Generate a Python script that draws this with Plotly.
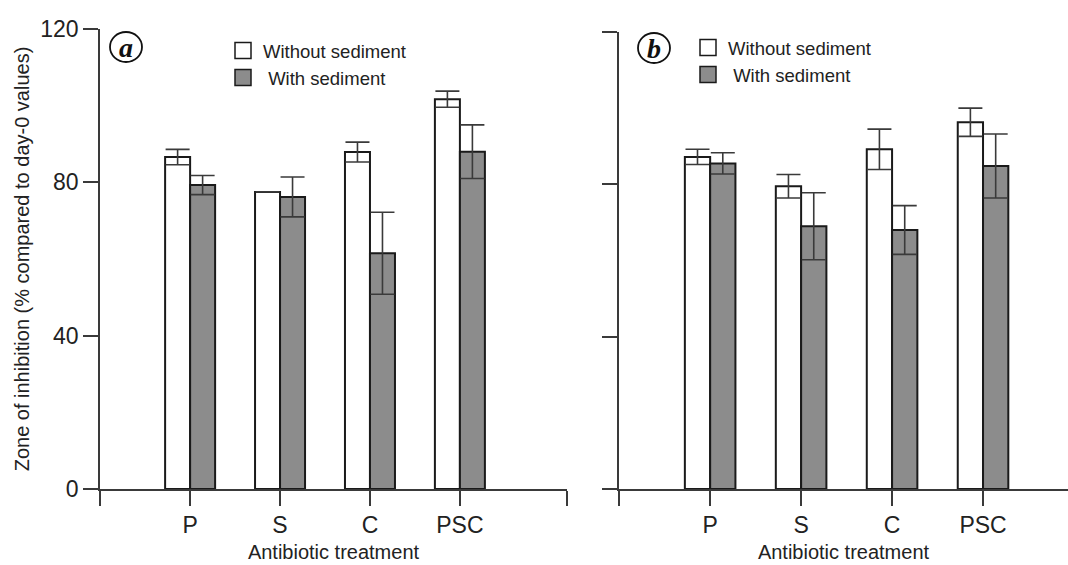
import plotly.graph_objects as go

categories = ["P", "S", "C", "PSC"]
a_without = [86.6, 77.5, 87.9, 101.7]
a_without_err = [2.0, 0.0, 2.6, 2.1]
a_with = [79.3, 76.2, 61.5, 88.0]
a_with_err = [2.5, 5.2, 10.7, 7.0]
b_without = [87.2, 79.5, 89.2, 96.3]
b_without_err = [2.0, 3.1, 5.3, 3.7]
b_with = [85.5, 69.0, 68.0, 84.8]
b_with_err = [2.8, 8.8, 6.4, 8.4]
series_names = ["Without sediment", "With sediment"]
y_ticks = [0, 40, 80, 120]

W, H = 1068, 565
FONT = "Liberation Sans, Arial, sans-serif"
OUT = "#1a1a1a"
AX = "#3a3a3a"
FILL = ["#ffffff", "#8c8c8c"]

xs = list(range(len(categories)))

def px(v):
    return v / W

def py(v):
    return 1 - v / H

fig = go.Figure()

panels = [
    ("x", "y", [a_without, a_with], [a_without_err, a_with_err], "legend"),
    ("x2", "y2", [b_without, b_with], [b_without_err, b_with_err], "legend2"),
]
for xa, ya, vals, errs, leg in panels:
    for i in range(2):
        fig.add_trace(go.Bar(
            x=xs, y=vals[i], xaxis=xa, yaxis=ya, name=series_names[i],
            marker=dict(color=FILL[i], line=dict(color=OUT, width=2)),
            error_y=dict(type="data", array=errs[i], visible=True,
                         color=AX, thickness=1.6, width=12),
            showlegend=False,
        ))
    for i in range(2):
        fig.add_trace(go.Scatter(
            x=[None], y=[None], xaxis=xa, yaxis=ya, mode="markers",
            name=series_names[i] if i == 0 else " " + series_names[i],
            marker=dict(symbol="square", size=16, color=FILL[i],
                        line=dict(color=OUT, width=1.5)),
            legend=leg, showlegend=True,
        ))

a_end = (567 - 100) / 90 - 1
b_end = (1068 - 619) / 91 - 1

xcommon = dict(showline=True, linecolor=AX, linewidth=1.5, ticks="outside",
               ticklen=15, tickwidth=1.5, tickcolor=AX, showgrid=False,
               zeroline=False, tickfont=dict(family=FONT, size=23, color="#222"),
               title=dict(text="Antibiotic treatment",
                          font=dict(family=FONT, size=20, color="#222"), standoff=8))
ycommon = dict(showline=True, linecolor=AX, linewidth=1.5, ticks="outside",
               ticklen=15, tickwidth=1.5, tickcolor=AX, showgrid=False,
               zeroline=False, range=[0, 120], tickvals=y_ticks,
               tickfont=dict(family=FONT, size=23, color="#222"))

fig.update_layout(
    width=W, height=H,
    margin=dict(l=0, r=0, t=0, b=0, autoexpand=False),
    paper_bgcolor="white", plot_bgcolor="white",
    barmode="group", bargap=0.444, bargroupgap=0,
    xaxis=dict(domain=[px(100), px(567)], range=[-1.002, a_end + 0.002],
               tickvals=[-1] + xs + [a_end], ticktext=[""] + categories + [""],
               anchor="y", automargin=False, **xcommon),
    yaxis=dict(domain=[py(489), py(29)], anchor="x", automargin=False,
               title=dict(text="Zone of inhibition (% compared to day-0 values)",
                          font=dict(family=FONT, size=20, color="#222"), standoff=5),
               **ycommon),
    xaxis2=dict(domain=[px(619), 1.0], range=[-1.002, b_end],
                tickvals=[-1] + xs, ticktext=[""] + categories,
                anchor="y2", automargin=False, **xcommon),
    yaxis2=dict(domain=[py(489), py(32)], anchor="x2", automargin=False,
                showticklabels=False, **ycommon),
    legend=dict(x=px(223), y=py(32), xanchor="left", yanchor="top",
                bgcolor="rgba(0,0,0,0)", font=dict(family=FONT, size=18.5, color="#222"),
                tracegroupgap=0, itemclick=False),
    legend2=dict(x=px(688), y=py(29), xanchor="left", yanchor="top",
                 bgcolor="rgba(0,0,0,0)", font=dict(family=FONT, size=18.5, color="#222"),
                 tracegroupgap=0, itemclick=False),
)

for label, cx, cy in [("a", 126, 47), ("b", 654, 48)]:
    fig.add_shape(type="circle", xref="paper", yref="paper",
                  x0=px(cx - 16), x1=px(cx + 16), y0=py(cy + 15), y1=py(cy - 15),
                  line=dict(color="#111", width=1.8))
    fig.add_annotation(text="<b><i>" + label + "</i></b>", xref="paper", yref="paper",
                       x=px(cx), y=py(cy), xanchor="center", yanchor="middle",
                       showarrow=False,
                       font=dict(family="Liberation Serif, Times New Roman, serif",
                                 size=28, color="#111"))

fig.write_html("out.html", post_script="document.body.style.margin='0';",
               config={"displayModeBar": False})
